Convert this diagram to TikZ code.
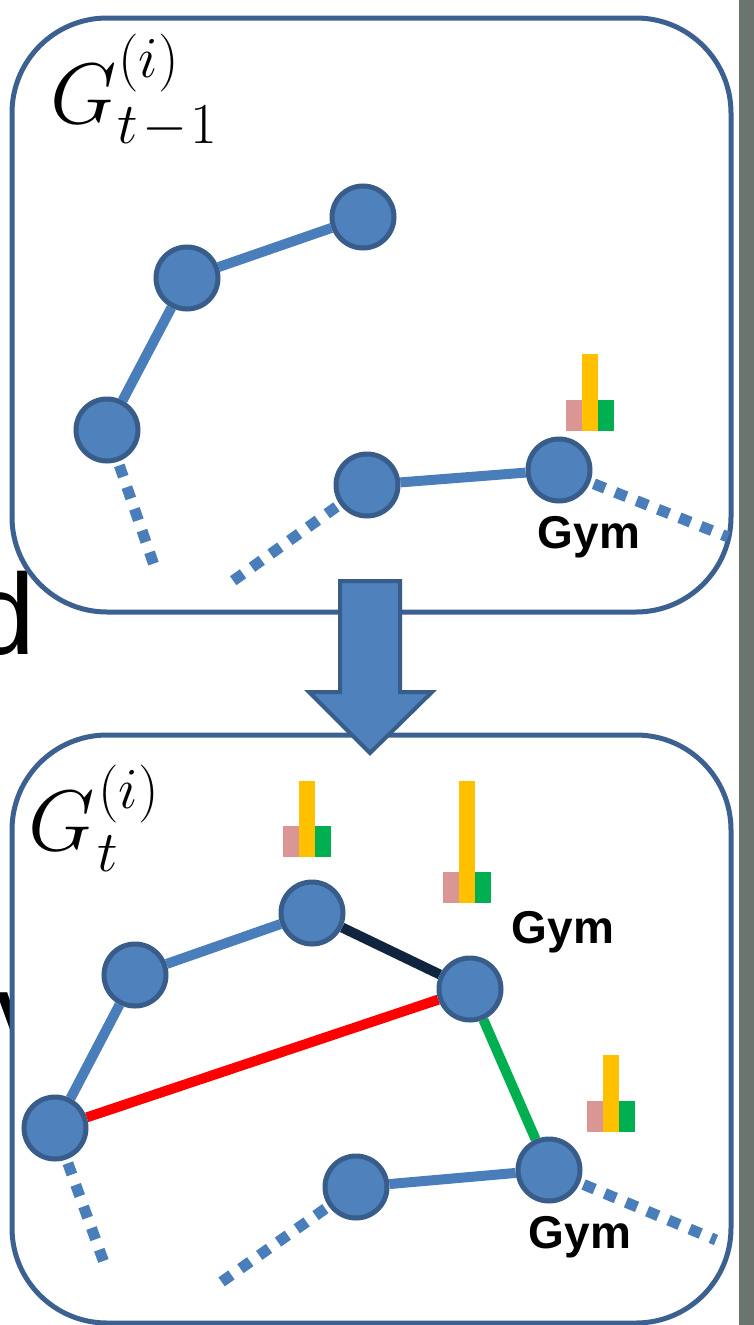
\documentclass[tikz,border=0pt]{standalone}
\usepackage{fix-cm}
\usepackage{fontspec}
\setsansfont{Liberation Sans}
\definecolor{nodefill}{HTML}{4F81BD}
\definecolor{nodeborder}{HTML}{385D8A}
\definecolor{edgeblue}{HTML}{4A7EBB}
\definecolor{boxborder}{HTML}{3C6191}
\definecolor{navyedge}{HTML}{10243E}
\definecolor{rededge}{HTML}{FF0000}
\definecolor{greenedge}{HTML}{00B050}
\definecolor{barpink}{HTML}{D99694}
\definecolor{baryellow}{HTML}{FFC000}
\definecolor{bargreen}{HTML}{00B050}
\definecolor{greybar}{HTML}{6B7570}
\pgfdeclarelayer{bg}
\pgfdeclarelayer{edgelayer}
\pgfsetlayers{bg,edgelayer,main}
\newcommand\minihist[4]{%
  \fill[barpink] (#1,#2) rectangle (#1+16,#4);
  \fill[bargreen] (#1+32,#2) rectangle (#1+48,#4);
  \fill[baryellow] (#1+16,#2) rectangle (#1+32,#3);
}
% #1 sup gap, #2 sup raise, #3 sub gap, #4 sub lower, #5 sup, #6 sub
\newcommand\graphlabel[6]{%
  $G$\rlap{\hspace{#1}\raisebox{#2}{\fontsize{58}{60}\selectfont$#5$}}%
  \hspace{#3}\raisebox{-#4}{\fontsize{58}{60}\selectfont$#6$}}
\begin{document}
\begin{tikzpicture}[x=1pt,y=-1pt,
  gnode/.style={circle,fill=nodefill,draw=nodeborder,line width=5pt,minimum size=62pt,inner sep=0pt},
  edge/.style={line width=10pt,draw=edgeblue},
  dotline/.style={line width=11pt,draw=edgeblue,dash pattern=on 12pt off 11pt,shorten <=4pt},
  frame/.style={draw=boxborder,line width=5pt,fill=white,rounded corners=95pt},
  gym/.style={font=\fontsize{46}{50}\selectfont\sffamily\bfseries,anchor=base,inner sep=0pt},
  glabel/.style={font=\fontsize{86}{90}\selectfont,anchor=base west,inner sep=0pt},
  bigletter/.style={font=\fontsize{115}{120}\selectfont\sffamily,anchor=base west,inner sep=0pt}]
\useasboundingbox (0,0) rectangle (754,1325);
\clip (0,0) rectangle (754,1325);
\begin{pgfonlayer}{bg}
  \fill[white] (0,0) rectangle (754,1325);
  \node[bigletter] (dletter) at (-29,654) {d};
  \node[bigletter] (vletter) at (-4,1053) {v};
  \fill[greybar] (739,0) rectangle (754,1325);
  \draw[frame] (12,18) rectangle (731,612);
  \draw[frame] (12,735) rectangle (731,1323);
\end{pgfonlayer}

% labels
\node[glabel] (lab1) at (50,123) {\graphlabel{1.5pt}{46pt}{0.4pt}{20pt}{(i)}{t\mkern1.5mu{-}\mkern1mu1}};
\node[glabel] (lab2) at (28,850) {\graphlabel{3.5pt}{42pt}{2.4pt}{21pt}{(i)}{t}};

% top graph
\node[gnode] (A1) at (363,217) {};
\node[gnode] (A2) at (187,278) {};
\node[gnode] (A3) at (107,430) {};
\node[gnode] (A4) at (367,485) {};
\node[gnode] (A5) at (559,470) {};
\coordinate (a3end) at (155,568);
\coordinate (a4end) at (230,583);
\coordinate (a5end) at (728,537);
\begin{pgfonlayer}{edgelayer}
  \draw[edge] (A1) -- (A2);
  \draw[edge] (A2) -- (A3);
  \draw[edge] (A4) -- (A5);
  \draw[dotline] (A3) -- (a3end);
  \draw[dotline] (A4) -- (a4end);
  \draw[dotline] (A5) -- (a5end);
\end{pgfonlayer}
\minihist{566}{431}{354}{400}
\node[gym] (gym1) at (589,548) {Gym};

% bottom graph
\node[gnode] (B1) at (312,913) {};
\node[gnode] (B2) at (135,975) {};
\node[gnode] (B3) at (55,1128) {};
\node[gnode] (B4) at (470,989) {};
\node[gnode] (B5) at (356,1187) {};
\node[gnode] (B6) at (549,1170) {};
\coordinate (b3end) at (106,1268);
\coordinate (b5end) at (220,1283);
\coordinate (b6end) at (716,1240);
\begin{pgfonlayer}{edgelayer}
  \draw[edge] (B1) -- (B2);
  \draw[edge] (B2) -- (B3);
  \draw[edge,draw=navyedge] (B1) -- (B4);
  \draw[edge,draw=rededge] (B3) -- (B4);
  \draw[edge,draw=greenedge] (B4) -- (B6);
  \draw[edge] (B5) -- (B6);
  \draw[dotline] (B3) -- (b3end);
  \draw[dotline] (B5) -- (b5end);
  \draw[dotline] (B6) -- (b6end);
\end{pgfonlayer}
\minihist{283}{857}{781}{826}
\minihist{443}{903}{781}{872}
\minihist{587}{1132}{1055}{1101}
\node[gym] (gym2) at (563,943) {Gym};
\node[gym] (gym3) at (580,1248) {Gym};

% block arrow
\draw[fill=nodefill,draw=nodeborder,line width=4pt,line join=miter]
  (340,581) -- (400,581) -- (400,692) -- (432,692) -- (370,753) -- (309,692) -- (340,692) -- cycle;
\end{tikzpicture}
\end{document}
